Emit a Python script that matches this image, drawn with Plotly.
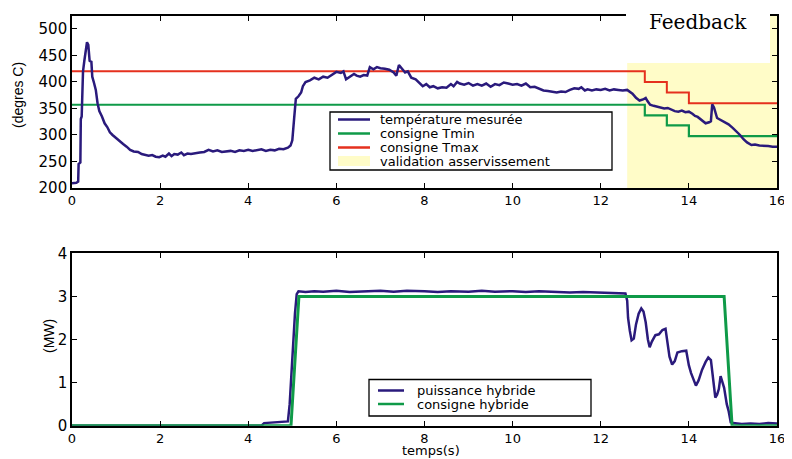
import plotly.graph_objects as go

# ---------------- data ----------------
temp_t = [0.00, 0.10, 0.14, 0.15, 0.19, 0.20, 0.22, 0.25, 0.28, 0.31, 0.34, 0.37, 0.40, 0.44, 0.46,
          0.50, 0.54, 0.58, 0.62, 0.68, 0.74, 0.80, 0.86, 0.92, 1.00, 1.08, 1.16, 1.24, 1.32, 1.40,
          1.50, 1.58, 1.66, 1.74, 1.82, 1.90, 1.98, 2.06, 2.12, 2.20, 2.26, 2.32, 2.40, 2.48, 2.54,
          2.62, 2.70, 2.80, 2.90, 3.00, 3.10, 3.20, 3.30, 3.40, 3.50, 3.60, 3.70, 3.80, 3.90, 4.00,
          4.10, 4.20, 4.30, 4.40, 4.50, 4.60, 4.70, 4.80, 4.90, 4.96, 5.00, 5.04, 5.08, 5.14, 5.20,
          5.24, 5.30, 5.40, 5.50, 5.60, 5.70, 5.80, 5.90, 6.00, 6.10, 6.16, 6.22, 6.30, 6.40, 6.46,
          6.54, 6.62, 6.70, 6.76, 6.84, 6.92, 7.00, 7.10, 7.20, 7.30, 7.36, 7.42, 7.48, 7.56, 7.62,
          7.70, 7.80, 7.90, 7.96, 8.04, 8.12, 8.20, 8.30, 8.40, 8.50, 8.60, 8.66, 8.74, 8.80, 8.90,
          9.00, 9.10, 9.20, 9.30, 9.40, 9.50, 9.60, 9.70, 9.80, 9.90, 10.00, 10.10, 10.20, 10.30, 10.40,
          10.50, 10.60, 10.70, 10.80, 10.90, 11.00, 11.10, 11.20, 11.30, 11.40, 11.50, 11.56, 11.64, 11.70, 11.80,
          11.90, 12.00, 12.10, 12.20, 12.30, 12.40, 12.50, 12.60, 12.66, 12.72, 12.80, 12.88, 12.96, 13.02, 13.06,
          13.12, 13.20, 13.28, 13.36, 13.44, 13.52, 13.60, 13.68, 13.76, 13.84, 13.92, 14.00, 14.08, 14.14, 14.20,
          14.30, 14.38, 14.46, 14.50, 14.53, 14.57, 14.64, 14.72, 14.80, 14.90, 15.00, 15.08, 15.16, 15.24, 15.32,
          15.42, 15.50, 15.60, 15.70, 15.80, 15.90, 16.00]
temp_val = [209, 210, 212, 245, 248, 330, 335, 420, 440, 460, 475, 470, 440, 438, 410,
            398, 385, 360, 345, 335, 322, 315, 305, 300, 294, 288, 283, 278, 272, 269,
            268, 264, 263, 261, 262, 259, 258, 261, 259, 265, 260, 264, 263, 267, 262,
            265, 264, 266, 267, 268, 272, 269, 271, 268, 269, 270, 268, 271, 270, 272,
            270, 271, 273, 270, 272, 271, 274, 273, 276, 280, 290, 330, 368, 373, 380,
            392, 400, 403, 408, 405, 410, 408, 414, 419, 417, 420, 405, 410, 415, 412,
            410, 413, 412, 428, 424, 428, 426, 425, 423, 418, 412, 432, 425, 418, 420,
            408, 405, 398, 392, 396, 390, 392, 388, 390, 389, 396, 392, 400, 397, 395,
            398, 393, 396, 393, 397, 391, 396, 394, 399, 397, 395, 396, 393, 397, 390,
            391, 388, 384, 383, 381, 380, 382, 381, 385, 388, 387, 390, 384, 386, 384,
            386, 385, 387, 384, 386, 385, 384, 385, 382, 378, 370, 365, 367, 370, 364,
            357, 355, 353, 352, 350, 351, 348, 345, 344, 346, 343, 344, 340, 336, 334,
            328, 322, 324, 326, 358, 352, 332, 328, 325, 320, 313, 307, 300, 292, 286,
            281, 282, 280, 280, 279, 278, 278]

tmin_t = [0, 13.0, 13.0, 13.5, 13.5, 14.0, 14.0, 16]
tmin_val = [357, 357, 337, 337, 318, 318, 298, 298]
tmax_t = [0, 13.0, 13.0, 13.5, 13.5, 14.0, 14.0, 16]
tmax_val = [420, 420, 400, 400, 380, 380, 360, 360]
valid_t = [12.6, 16, 16, 12.6, 12.6]
valid_val = [200, 200, 525, 525, 200]

pow_t = [0, 4.30, 4.36, 4.50, 4.60, 4.70, 4.80, 4.90, 4.94, 4.98, 5.02, 5.06, 5.10, 5.14, 5.30,
         5.50, 5.70, 6.00, 6.30, 6.60, 7.00, 7.30, 7.60, 8.00, 8.30, 8.60, 9.00, 9.30, 9.60, 10.00,
         10.30, 10.60, 11.00, 11.30, 11.60, 12.00, 12.30, 12.56, 12.60, 12.62, 12.66, 12.70, 12.75, 12.80, 12.86,
         12.92, 12.97, 13.02, 13.07, 13.11, 13.16, 13.24, 13.32, 13.40, 13.47, 13.52, 13.56, 13.62, 13.68, 13.74,
         13.84, 13.94, 14.00, 14.05, 14.12, 14.16, 14.22, 14.30, 14.38, 14.44, 14.50, 14.56, 14.60, 14.64, 14.68,
         14.72, 14.76, 14.80, 14.86, 14.90, 14.95, 15.00, 15.20, 15.40, 15.60, 15.80, 16.00]
pow_val = [0, 0, 0.06, 0.07, 0.09, 0.08, 0.10, 0.10, 0.5, 1.3, 2.1, 2.6, 3.05, 3.12, 3.10,
           3.12, 3.11, 3.13, 3.10, 3.12, 3.13, 3.11, 3.13, 3.12, 3.10, 3.12, 3.11, 3.13, 3.11, 3.12,
           3.10, 3.12, 3.11, 3.09, 3.10, 3.09, 3.08, 3.07, 2.9, 2.5, 2.2, 1.98, 2.02, 2.35, 2.6,
           2.72, 2.65, 2.4, 2.0, 1.82, 1.95, 2.1, 2.12, 2.22, 2.25, 1.9, 1.6, 1.42, 1.5, 1.7,
           1.73, 1.74, 1.4, 1.22, 1.0, 0.93, 1.05, 1.3, 1.48, 1.58, 1.52, 1.0, 0.65, 0.72, 0.85,
           1.15, 1.0, 0.88, 0.5, 0.35, 0.08, 0.06, 0.04, 0.05, 0.04, 0.06, 0.05]
cons_t = [0, 4.97, 5.15, 14.8, 14.98, 16]
cons_val = [0, 0, 3, 3, 0, 0]

x_ticks = [0, 2, 4, 6, 8, 10, 12, 14, 16]
temp_ticks = [200, 250, 300, 350, 400, 450, 500]
pow_ticks = [0, 1, 2, 3, 4]

BLUE = "#2a1a7c"
GREEN = "#0f9a48"
RED = "#e5301e"
YELLOW = "#fffcc8"

# the page body has an 8px margin: the figure is offset by (8, 8) in the window
OFF = 8
W, H = 792 - OFF, 459 - OFF
def px(x):
    return (x - OFF) / W
def py(y):
    return 1 - (y - OFF) / H

fig = go.Figure()
fig.add_trace(go.Scatter(x=valid_t, y=valid_val, fill="toself", fillcolor=YELLOW,
                         line=dict(width=0), mode="lines", hoverinfo="skip",
                         name="validation asservissement", showlegend=False, xaxis="x", yaxis="y"))
fig.add_trace(go.Scatter(x=tmin_t, y=tmin_val, mode="lines", line=dict(color=GREEN, width=2.2),
                         name="consigne Tmin", showlegend=False, xaxis="x", yaxis="y"))
fig.add_trace(go.Scatter(x=tmax_t, y=tmax_val, mode="lines", line=dict(color=RED, width=2),
                         name="consigne Tmax", showlegend=False, xaxis="x", yaxis="y"))
fig.add_trace(go.Scatter(x=temp_t, y=temp_val, mode="lines", line=dict(color=BLUE, width=2.5),
                         name="température mesurée", showlegend=False, xaxis="x", yaxis="y"))

fig.add_trace(go.Scatter(x=pow_t, y=pow_val, mode="lines", line=dict(color=BLUE, width=2.5),
                         name="puissance hybride", showlegend=False, xaxis="x2", yaxis="y2"))
fig.add_trace(go.Scatter(x=cons_t, y=cons_val, mode="lines", line=dict(color=GREEN, width=3),
                         name="consigne hybride", showlegend=False, xaxis="x2", yaxis="y2"))

axis_common = dict(showline=True, linecolor="black", linewidth=1.6, mirror="ticks",
                   ticks="inside", ticklen=5, tickcolor="black", tickwidth=1.2,
                   showgrid=False, zeroline=False, automargin=False)
yfont = dict(family="DejaVu Sans", size=15, color="black")
xfont = dict(family="DejaVu Sans", size=13, color="black")

xdom = [px(72), px(777)]
fig.update_layout(
    width=W, height=H, margin=dict(l=0, r=0, t=0, b=0, autoexpand=False),
    paper_bgcolor="white", plot_bgcolor="white", showlegend=False,
    xaxis=dict(domain=xdom, range=[0, 16], tickvals=x_ticks, anchor="y", tickfont=xfont, **axis_common),
    yaxis=dict(domain=[py(188), py(15.7)], range=[200, 525], tickvals=temp_ticks, anchor="x", tickfont=yfont, **axis_common),
    xaxis2=dict(domain=xdom, range=[0, 16], tickvals=x_ticks, anchor="y2", tickfont=xfont, **axis_common),
    yaxis2=dict(domain=[py(425.7), py(253.3)], range=[0, 4], tickvals=pow_ticks, anchor="x2", tickfont=yfont, **axis_common),
)

shapes = []
annots = []
# Feedback white box
shapes.append(dict(type="rect", xref="paper", yref="paper", x0=px(626), x1=px(770), y0=py(63), y1=1.0,
                   fillcolor="white", line=dict(width=0), layer="above"))
annots.append(dict(text="Feedback", xref="paper", yref="paper", x=px(698), y=1.0, showarrow=False,
                   xanchor="center", yanchor="top",
                   font=dict(family="DejaVu Serif", size=20, color="black")))

legfont = dict(family="DejaVu Sans", size=13, color="black")
# top legend
shapes.append(dict(type="rect", xref="paper", yref="paper", x0=px(330), x1=px(612), y0=py(170), y1=py(112),
                   fillcolor="white", line=dict(color="black", width=1.3), layer="above"))
top_items = [("température mesurée", BLUE, 119.5, "line"),
             ("consigne Tmin", GREEN, 133.5, "line"),
             ("consigne Tmax", RED, 147.5, "line"),
             ("validation asservissement", YELLOW, 161.5, "rect")]
for name, col, yy, kind in top_items:
    if kind == "line":
        shapes.append(dict(type="line", xref="paper", yref="paper", x0=px(338), x1=px(370), y0=py(yy), y1=py(yy),
                           line=dict(color=col, width=2.5), layer="above"))
    else:
        shapes.append(dict(type="rect", xref="paper", yref="paper", x0=px(338), x1=px(370), y0=py(yy + 4.5), y1=py(yy - 5.5),
                           fillcolor=col, line=dict(width=0), layer="above"))
    annots.append(dict(text=name, xref="paper", yref="paper", x=px(378), y=py(yy), showarrow=False,
                       xanchor="left", yanchor="middle", font=legfont))

# bottom legend
shapes.append(dict(type="rect", xref="paper", yref="paper", x0=px(369), x1=px(591), y0=py(416), y1=py(379.5),
                   fillcolor="white", line=dict(color="black", width=1.3), layer="above"))
bot_items = [("puissance hybride", BLUE, 390.5), ("consigne hybride", GREEN, 404)]
for name, col, yy in bot_items:
    shapes.append(dict(type="line", xref="paper", yref="paper", x0=px(378), x1=px(404), y0=py(yy), y1=py(yy),
                       line=dict(color=col, width=2.5), layer="above"))
    annots.append(dict(text=name, xref="paper", yref="paper", x=px(415), y=py(yy), showarrow=False,
                       xanchor="left", yanchor="middle", font=legfont))

# axis titles
annots.append(dict(text="(degres C)", xref="paper", yref="paper", x=px(18), y=py(95), showarrow=False,
                   textangle=-90, xanchor="center", yanchor="middle",
                   font=dict(family="Liberation Sans", size=14, color="black")))
annots.append(dict(text="(MW)", xref="paper", yref="paper", x=px(49), y=py(336), showarrow=False,
                   textangle=-90, xanchor="center", yanchor="middle",
                   font=dict(family="Liberation Sans", size=14, color="black")))
annots.append(dict(text="temps(s)", xref="paper", yref="paper", x=px(431), y=0.0, showarrow=False,
                   xanchor="center", yanchor="bottom", borderpad=0,
                   font=dict(family="DejaVu Sans", size=13, color="black")))

fig.update_layout(shapes=shapes, annotations=annots)
fig.write_html("out.html")
